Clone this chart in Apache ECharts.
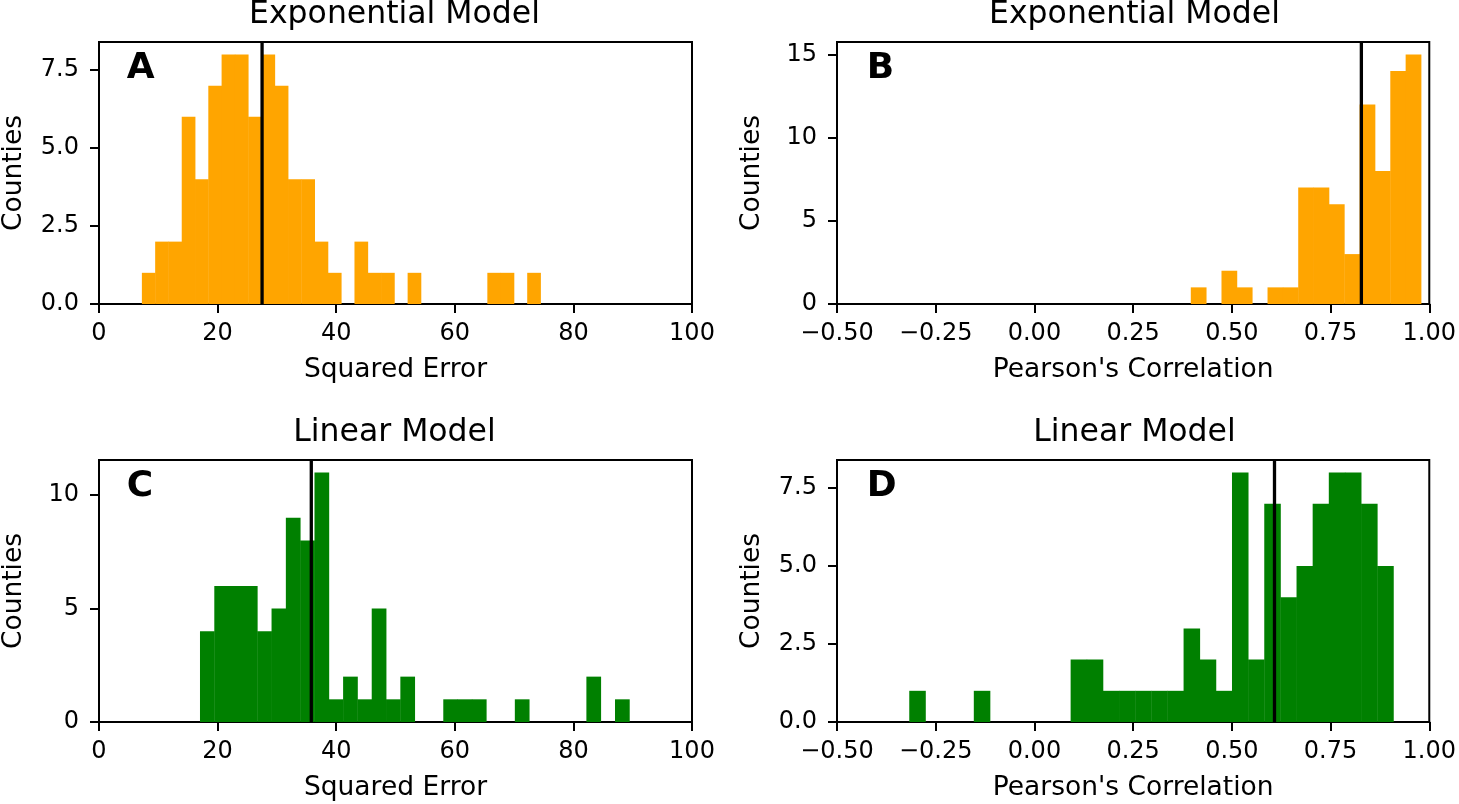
<!DOCTYPE html>
<html>
<head>
<meta charset="utf-8">
<script src="https://cdn.jsdelivr.net/npm/echarts@6/dist/echarts.min.js"></script>
<style>
html,body{margin:0;padding:0;background:#fff;}
#chart{width:1459px;height:804px;}
</style>
</head>
<body>
<div id="chart"></div>
<script>
// ---------- data ----------
// Panel A: Exponential model, squared error (30 bins)
const aRange = [7.23, 74.45];
const aCounts = [1,2,2,6,4,7,8,8,6,8,7,4,4,2,1,0,2,1,1,0,1,0,0,0,0,0,1,1,0,1];
const aMean = 27.5;
// Panel B: Exponential model, Pearson's correlation (15 bins)
const bRange = [0.396, 0.979];
const bCounts = [1,0,2,1,0,1,1,7,7,6,3,12,8,14,15];
const bMean = 0.828;
// Panel C: Linear model, squared error (30 bins)
const cRange = [17.03, 89.43];
const cCounts = [4,6,6,6,4,5,9,8,11,1,2,1,5,1,2,0,0,1,1,1,0,0,1,0,0,0,0,2,0,1];
const cMean = 35.8;
// Panel D: Linear model, Pearson's correlation (30 bins)
const dRange = [-0.317, 0.909];
const dCounts = [1,0,0,0,1,0,0,0,0,0,2,2,1,1,1,1,1,3,2,1,8,2,7,4,5,7,8,8,7,5];
const dMean = 0.608;

// axis ticks / labels
const errTicks = [0, 20, 40, 60, 80, 100];
const corrTicks = [-0.5, -0.25, 0, 0.25, 0.5, 0.75, 1.0];
const countTicksA = [0, 2.5, 5, 7.5];
const countTicksB = [0, 5, 10, 15];
const countTicksC = [0, 5, 10];
const countTicksD = [0, 2.5, 5, 7.5];
const yMaxes = [8.4, 15.75, 11.55, 8.4];

const titles = ['Exponential Model', 'Exponential Model', 'Linear Model', 'Linear Model'];
const letters = ['A', 'B', 'C', 'D'];
const xNames = ['Squared Error', "Pearson's Correlation", 'Squared Error', "Pearson's Correlation"];
const yName = 'Counties';

// ---------- chart ----------
const FONT = 'DejaVu Sans';
const ORANGE = '#FFA500', GREEN = '#008000';

function histData(range, counts) {
  const n = counts.length, w = (range[1] - range[0]) / n;
  return counts.map((c, i) => [range[0] + i * w, range[0] + (i + 1) * w, c]);
}
function fmtCorr(v) { return v.toFixed(2).replace('-', '\u2212'); }
function fmtOne(v) { return v.toFixed(1); }
function fmtInt(v) { return String(Math.round(v)); }

const grids = [
  {left: 97, top: 42, width: 595, height: 262},
  {left: 837, top: 42, width: 595, height: 262},
  {left: 97, top: 460, width: 595, height: 262},
  {left: 837, top: 460, width: 595, height: 262}
];

const panels = [
  {range: aRange, counts: aCounts, mean: aMean, color: ORANGE, xTicks: errTicks, xFmt: fmtInt, yTicks: countTicksA, yFmt: fmtOne, xMin: 0, xMax: 100, xInt: 20},
  {range: bRange, counts: bCounts, mean: bMean, color: ORANGE, xTicks: corrTicks, xFmt: fmtCorr, yTicks: countTicksB, yFmt: fmtInt, xMin: -0.5, xMax: 1.0, xInt: 0.25},
  {range: cRange, counts: cCounts, mean: cMean, color: GREEN, xTicks: errTicks, xFmt: fmtInt, yTicks: countTicksC, yFmt: fmtInt, xMin: 0, xMax: 100, xInt: 20},
  {range: dRange, counts: dCounts, mean: dMean, color: GREEN, xTicks: corrTicks, xFmt: fmtCorr, yTicks: countTicksD, yFmt: fmtOne, xMin: -0.5, xMax: 1.0, xInt: 0.25}
];

const axisLineStyle = {show: true, onZero: false, lineStyle: {color: '#000', width: 2}};
const tickStyle = {show: true, inside: false, length: 9, lineStyle: {color: '#000', width: 2}};

const xAxes = [], yAxes = [], series = [], graphics = [];
panels.forEach((p, i) => {
  xAxes.push({
    type: 'value', gridIndex: i, min: p.xMin, max: p.xMax, interval: p.xInt,
    axisLine: axisLineStyle,
    axisTick: Object.assign({customValues: p.xTicks}, tickStyle),
    axisLabel: {customValues: p.xTicks, formatter: p.xFmt, margin: 18, color: '#000', fontFamily: FONT, fontSize: 24},
    splitLine: {show: false},
    name: xNames[i], nameLocation: 'middle', nameGap: 53,
    nameTextStyle: {color: '#000', fontFamily: FONT, fontSize: 26.5}
  });
  yAxes.push({
    type: 'value', gridIndex: i, min: 0, max: yMaxes[i],
    axisLine: axisLineStyle,
    axisTick: Object.assign({customValues: p.yTicks}, tickStyle),
    axisLabel: {customValues: p.yTicks, formatter: p.yFmt, margin: 20, color: '#000', fontFamily: FONT, fontSize: 24},
    splitLine: {show: false},
    name: yName, nameLocation: 'middle', nameGap: 71,
    nameTextStyle: {color: '#000', fontFamily: FONT, fontSize: 26.5}
  });
  const color = p.color;
  series.push({
    type: 'custom', xAxisIndex: i, yAxisIndex: i,
    data: histData(p.range, p.counts),
    encode: {x: [0, 1], y: 2},
    renderItem: function (params, api) {
      const a = api.coord([api.value(0), api.value(2)]);
      const b = api.coord([api.value(1), 0]);
      return {type: 'rect', shape: {x: a[0], y: a[1], width: b[0] - a[0] + 0.4, height: b[1] - a[1]},
              style: {fill: color}};
    },
    z: 2
  });
  series.push({
    type: 'line', xAxisIndex: i, yAxisIndex: i,
    data: [[p.mean, 0], [p.mean, yMaxes[i]]],
    symbol: 'none', lineStyle: {color: '#000', width: 3.3}, z: 5, silent: true
  });
  const g = grids[i];
  graphics.push({
    type: 'text', x: g.left + g.width / 2, y: g.top - 43.5,
    style: {text: titles[i], font: '31.5px "' + FONT + '"', fill: '#000', align: 'center', verticalAlign: 'top'}
  });
  graphics.push({
    type: 'text', x: g.left + 29.75, y: g.top + 8.5,
    style: {text: letters[i], font: 'bold 36px "' + FONT + '"', fill: '#000', align: 'left', verticalAlign: 'top'},
    z: 10
  });
});

const option = {
  animation: false,
  backgroundColor: '#fff',
  grid: grids.map(g => Object.assign({show: true, borderColor: '#000', borderWidth: 2, backgroundColor: 'transparent'}, g)),
  xAxis: xAxes,
  yAxis: yAxes,
  series: series,
  graphic: graphics
};

const chart = echarts.init(document.getElementById('chart'), null, {renderer: 'canvas'});
chart.setOption(option);
</script>
</body>
</html>
